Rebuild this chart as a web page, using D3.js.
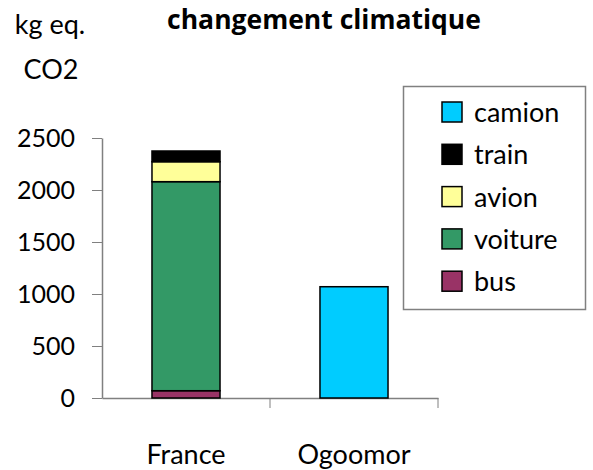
<!DOCTYPE html>
<html>
<head>
<meta charset="utf-8">
<script src="https://cdn.jsdelivr.net/npm/d3@7"></script>
<style>
body { margin: 0; background: #fff; }
svg text { font-family: Lato, "Open Sans", sans-serif; fill: #000; }
</style>
</head>
<body>
<script>
var w = 593,
    h = 470;

// data
var pays = ["France", "Ogoomor"];
var modes = ["bus", "voiture", "avion", "train", "camion"];
var couleurs = ["#993366", "#339966", "#FFFF99", "#000000", "#00CCFF"];
var bus = [70, 0];
var voiture = [2010, 0];
var avion = [192, 0];
var train = [103, 0];
var camion = [0, 1070];
var yTicks = [0, 500, 1000, 1500, 2000, 2500];

var valeurs = { bus: bus, voiture: voiture, avion: avion, train: train, camion: camion };

var table = pays.map(function (p, i) {
    var row = { pays: p };
    modes.forEach(function (m) { row[m] = valeurs[m][i]; });
    return row;
});

var svg = d3.select("body").append("svg").attr("width", w).attr("height", h);

var xScale = d3.scaleBand()
    .domain(pays)
    .range([102, 438]);

var yScale = d3.scaleLinear()
    .domain([0, 2500])
    .range([398, 138]);

var barW = xScale.bandwidth() * 0.405;

var stack = d3.stack().keys(modes)(table);

var color = d3.scaleOrdinal().domain(modes).range(couleurs);

// y axis
var yAxisGen = d3.axisLeft(yScale).tickValues(yTicks).tickFormat(d3.format("d"))
    .tickSize(10).tickSizeOuter(0).tickPadding(17);
var yAxis = svg.append("g")
    .attr("transform", "translate(102,0)")
    .call(yAxisGen);
yAxis.select(".domain").attr("stroke", "#808080").attr("stroke-width", 1.5);
yAxis.selectAll(".tick line").attr("stroke", "#808080");
yAxis.selectAll(".tick text").style("font-size", "25px");

// x axis
var xAxisGen = d3.axisBottom(xScale).tickSize(0).tickPadding(47).tickSizeOuter(0);
var xAxis = svg.append("g")
    .attr("transform", "translate(0,398)")
    .call(xAxisGen);
xAxis.select(".domain").attr("stroke", "#808080").attr("stroke-width", 1.5);
xAxis.selectAll(".tick text").style("font-size", "27px");

// separator ticks between categories
svg.append("g").selectAll("line")
    .data(pays)
    .enter().append("line")
    .attr("x1", function (d) { return xScale(d) + xScale.bandwidth(); })
    .attr("x2", function (d) { return xScale(d) + xScale.bandwidth(); })
    .attr("y1", 398)
    .attr("y2", 408)
    .attr("stroke", "#808080");

// bars
svg.append("g").selectAll("g")
    .data(stack)
    .enter().append("g")
    .attr("fill", function (d) { return color(d.key); })
    .selectAll("rect")
    .data(function (d) { return d.filter(function (s) { return s[1] - s[0] > 0; }); })
    .enter().append("rect")
    .attr("x", function (d) { return xScale(d.data.pays) + (xScale.bandwidth() - barW) / 2; })
    .attr("y", function (d) { return yScale(d[1]); })
    .attr("width", barW)
    .attr("height", function (d) { return yScale(d[0]) - yScale(d[1]); })
    .attr("stroke", "#000")
    .attr("stroke-width", 1.5);

// title
svg.append("text")
    .attr("x", 324)
    .attr("y", 29)
    .attr("text-anchor", "middle")
    .style("font-family", "'Open Sans', Lato, sans-serif")
    .style("font-size", "26.5px")
    .style("font-weight", "bold")
    .text("changement climatique");

svg.append("text")
    .attr("x", 50)
    .attr("y", 34)
    .attr("text-anchor", "middle")
    .style("font-size", "27px")
    .text("kg eq.");

svg.append("text")
    .attr("x", 51)
    .attr("y", 79)
    .attr("text-anchor", "middle")
    .style("font-size", "27px")
    .text("CO2");

// legend
var legend = svg.append("g");
legend.append("rect")
    .attr("x", 403.5)
    .attr("y", 86.5)
    .attr("width", 182)
    .attr("height", 223)
    .attr("fill", "#fff")
    .attr("stroke", "#808080")
    .attr("stroke-width", 1.5);

var legendOrder = modes.slice().reverse();
var items = legend.selectAll("g.item")
    .data(legendOrder)
    .enter().append("g")
    .attr("class", "item")
    .attr("transform", function (d, i) { return "translate(442," + (102 + i * 42.3) + ")"; });

items.append("rect")
    .attr("width", 20)
    .attr("height", 20)
    .attr("fill", function (d) { return color(d); })
    .attr("stroke", "#000")
    .attr("stroke-width", 1.5);

items.append("text")
    .attr("x", 32)
    .attr("y", 20)
    .style("font-size", "27px")
    .text(function (d) { return d; });
</script>
</body>
</html>
